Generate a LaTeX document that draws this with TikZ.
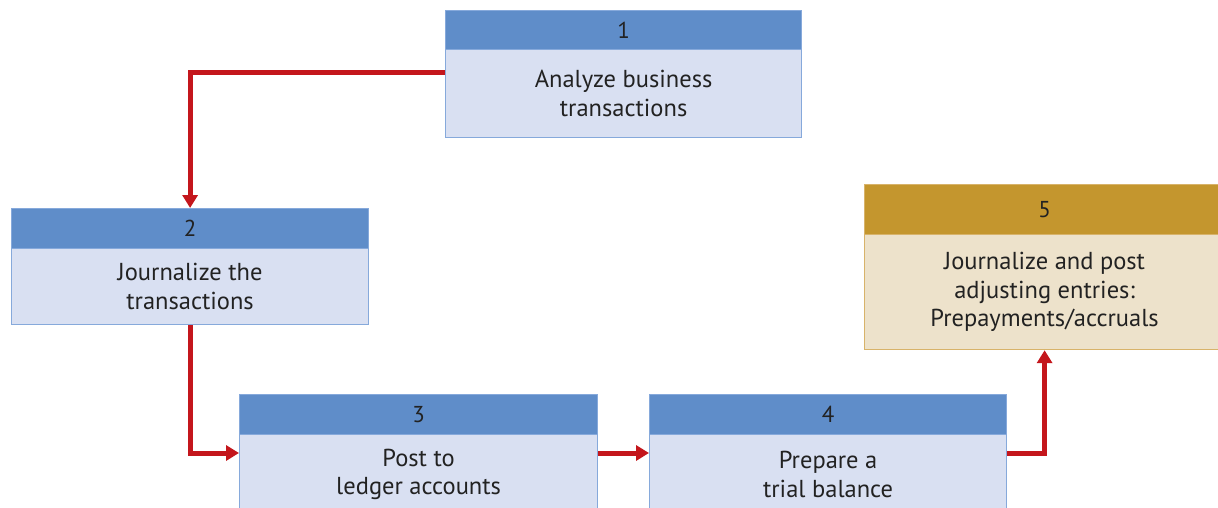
\documentclass[tikz,border=0pt]{standalone}
\usepackage{fontspec}
\setmainfont{PT Sans}
\usetikzlibrary{arrows.meta}
\definecolor{hdrblue}{HTML}{5F8DC9}
\definecolor{bodyblue}{HTML}{D9E0F2}
\definecolor{edgeblue}{HTML}{86A9DB}
\definecolor{hdrgold}{HTML}{C4962E}
\definecolor{bodygold}{HTML}{EDE2CB}
\definecolor{edgegold}{HTML}{D8B36A}
\definecolor{flowred}{HTML}{C4161C}
\definecolor{txt}{HTML}{222222}
\tikzset{
  hdr/.style={rectangle, anchor=north west, inner sep=0pt, fill=hdrblue, draw=edgeblue, line width=1.2pt,
    text=txt, font=\fontsize{23}{28}\selectfont},
  bdy/.style={rectangle, anchor=north west, inner sep=0pt, fill=bodyblue, draw=edgeblue, line width=1.2pt,
    text=txt, align=center, font=\fontsize{24.5}{28.5}\selectfont},
  ghdr/.style={hdr, fill=hdrgold, draw=edgegold},
  gbdy/.style={bdy, fill=bodygold, draw=edgegold},
  flow/.style={draw=flowred, line width=5pt, -{Triangle[width=15pt,length=13pt]}}
}
\begin{document}
\begin{tikzpicture}[x=1pt,y=-1pt]
\useasboundingbox (0,0) rectangle (1218,508);
\clip (0,0) rectangle (1218,508);
% box 1
\node[hdr, minimum width=356pt, minimum height=39pt] (h1) at (445,10) {1};
\node[bdy, minimum width=356pt, minimum height=88pt] (b1) at (445,49) {Analyze business\\transactions};
% box 2
\node[hdr, minimum width=357pt, minimum height=40pt] (h2) at (11,208) {2};
\node[bdy, minimum width=357pt, minimum height=76pt] (b2) at (11,248) {Journalize the\\transactions};
% box 3
\node[hdr, minimum width=358pt, minimum height=40pt] (h3) at (239,394) {3};
\node[bdy, minimum width=358pt, minimum height=80pt] (b3) at (239,434) {Post to\\ledger accounts};
% box 4
\node[hdr, minimum width=357pt, minimum height=40pt] (h4) at (649,394) {4};
\node[bdy, minimum width=357pt, minimum height=80pt] (b4) at (649,434) {Prepare a\\trial balance};
% box 5
\node[ghdr, minimum width=360pt, minimum height=50pt] (h5) at (864,184) {5};
\node[gbdy, minimum width=360pt, minimum height=115pt] (b5) at (864,234) {Journalize and post\\adjusting entries:\\Prepayments/accruals};
% connectors
\draw[flow] ([yshift=-24pt]b1.north west) -| (h2.north);
\draw[flow] (b2.south) |- ([yshift=-19pt]b3.north west);
\draw[flow] ([yshift=-19pt]b3.north east) -- ([yshift=-19pt]b4.north west);
\draw[flow] ([yshift=-19pt]b4.north east) -| (b5.south);
\end{tikzpicture}
\end{document}
